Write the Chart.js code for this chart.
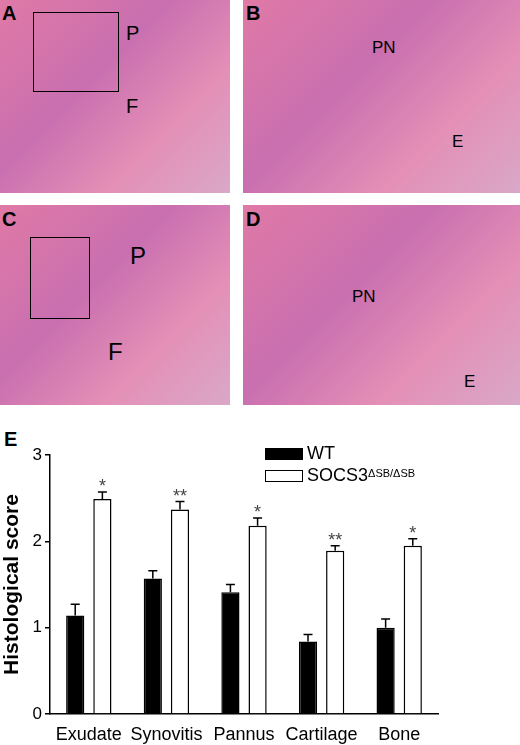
<!DOCTYPE html>
<html><head><meta charset="utf-8">
<script src="https://cdn.jsdelivr.net/npm/chart.js@4"></script>
<style>
body{margin:0;width:520px;height:745px;position:relative;background:#fff;font-family:"Liberation Sans",Arial,sans-serif;overflow:hidden}
.ph{position:absolute;background:linear-gradient(135deg,#e07aa6,#c96fb0 40%,#e48fb6 70%,#d9a8c8);}
.lt{position:absolute;font-weight:bold;font-size:20px;color:#000}
.wt{position:absolute;font-size:20px;color:#000}
#wrap{position:absolute;left:0;top:420px;width:520px;height:325px}
.leg{position:absolute;font-size:18px;display:flex;align-items:center}
.sw{width:38px;height:12px;border:1.5px solid #000;margin-right:4px;box-sizing:border-box}
</style></head><body>
<div class="ph" style="left:0;top:0;width:230px;height:193px"></div>
<div class="ph" style="left:243px;top:0;width:277px;height:193px"></div>
<div class="ph" style="left:0;top:205px;width:230px;height:200px"></div>
<div class="ph" style="left:243px;top:205px;width:277px;height:200px"></div>
<div style="position:absolute;left:33px;top:12px;width:84px;height:78px;border:1.5px solid #000"></div>
<div style="position:absolute;left:30px;top:237px;width:58px;height:80px;border:1.5px solid #000"></div>
<div class="lt" style="left:2px;top:2px">A</div><div class="lt" style="left:246px;top:2px">B</div>
<div class="lt" style="left:2px;top:208px">C</div><div class="lt" style="left:246px;top:208px">D</div>
<div class="wt" style="left:126px;top:22px">P</div><div class="wt" style="left:126px;top:95px">F</div>
<div class="wt" style="left:130px;top:242px;font-size:24px">P</div><div class="wt" style="left:108px;top:338px;font-size:24px">F</div>
<div class="wt" style="left:372px;top:38px;font-size:17px">PN</div><div class="wt" style="left:452px;top:132px;font-size:17px">E</div>
<div class="wt" style="left:352px;top:287px;font-size:17px">PN</div><div class="wt" style="left:464px;top:372px;font-size:17px">E</div>
<div class="lt" style="left:4px;top:428px">E</div>
<div id="wrap"><canvas id="c" width="520" height="325"></canvas></div>
<div class="leg" style="left:265px;top:443px"><div class="sw" style="background:#000"></div>WT</div>
<div class="leg" style="left:265px;top:465px"><div class="sw" style="background:#fff"></div>SOCS3<sup style="font-size:11px;position:relative;top:-3px">ΔSB/ΔSB</sup></div>
<script>
const categories=["Exudate","Synovitis","Pannus","Cartilage","Bone"];
const wtValues=[1.14,1.57,1.41,0.84,1.0];
const wtErr=[0.13,0.09,0.09,0.08,0.10];
const koValues=[2.49,2.37,2.18,1.89,1.95];
const koErr=[0.08,0.09,0.09,0.06,0.08];
const koStars=["*","**","*","**","*"];
const yTicks=[0,1,2,3];
const errPlugin={id:'err',afterDatasetsDraw(ch){
 const ctx=ch.ctx,y=ch.scales.y;
 [[wtErr,null],[koErr,koStars]].forEach((e,di)=>{
  const meta=ch.getDatasetMeta(di);
  meta.data.forEach((b,i)=>{
   const v=ch.data.datasets[di].data[i];
   const top=y.getPixelForValue(v+e[0][i]);
   ctx.save();ctx.strokeStyle='#000';ctx.lineWidth=1.5;ctx.beginPath();
   ctx.moveTo(b.x,b.y);ctx.lineTo(b.x,top);ctx.moveTo(b.x-4.5,top);ctx.lineTo(b.x+4.5,top);ctx.stroke();
   if(e[1]){ctx.fillStyle='#444';ctx.font='18px "Liberation Sans"';ctx.textAlign='center';ctx.textBaseline='bottom';ctx.fillText(e[1][i],b.x,top+4);}
   ctx.restore();
  });
 });
}};
new Chart(document.getElementById('c'),{type:'bar',
 data:{labels:categories,datasets:[
  {data:wtValues,backgroundColor:'#000',borderColor:'#000',borderWidth:1.5,barPercentage:0.67,categoryPercentage:0.7},
  {data:koValues,backgroundColor:'#fff',borderColor:'#000',borderWidth:1.5,barPercentage:0.67,categoryPercentage:0.7}]},
 options:{responsive:false,animation:false,events:[],
  layout:{padding:{top:35,right:82,left:0,bottom:0}},
  plugins:{legend:{display:false},tooltip:{enabled:false}},
  scales:{
   x:{grid:{display:false},border:{color:'#000',width:1.5},
      ticks:{color:'#000',font:{size:18,family:'Liberation Sans'},padding:2,maxRotation:0,autoSkip:false},
      afterFit(s){s.height=31;}},
   y:{min:0,max:3,afterBuildTicks(s){s.ticks=yTicks.map(v=>({value:v}));},
      grid:{drawOnChartArea:false,color:'#000',tickLength:5,lineWidth:1.5},border:{color:'#000',width:1.5},
      ticks:{color:'#000',font:{size:17,family:'Liberation Sans'},padding:3},
      title:{display:true,text:'Histological score',color:'#000',font:{size:21,weight:'bold',family:'Liberation Sans'},padding:0},
      afterFit(s){s.width=50;}}
  }},plugins:[errPlugin]});
</script></body></html>
